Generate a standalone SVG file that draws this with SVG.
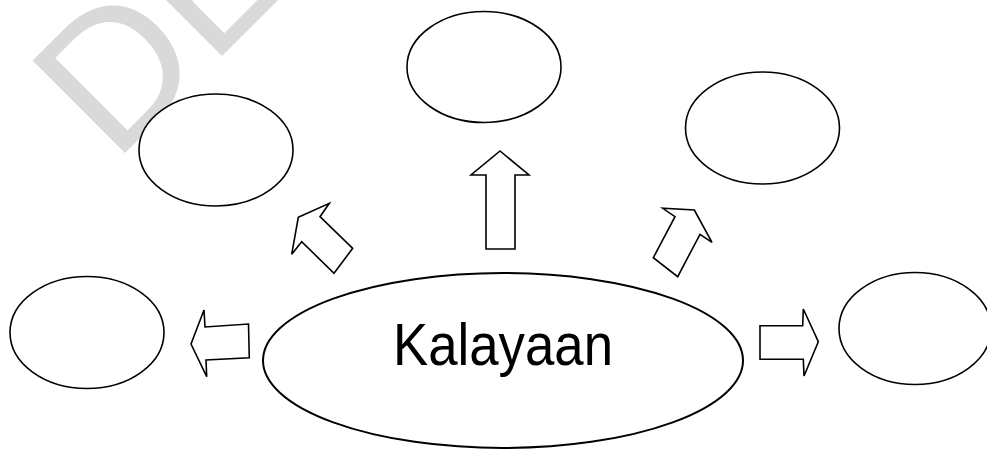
<svg xmlns="http://www.w3.org/2000/svg" width="987" height="449" viewBox="0 0 987 449">
<style>
.node{fill:#fff;stroke:#000;stroke-width:1.6}
.main{fill:#fff;stroke:#000;stroke-width:2}
.arr{fill:#fff;stroke:#000;stroke-width:1.6;stroke-linejoin:miter}
.wm{fill:#d9d9d9;font-family:"Liberation Sans",Arial,sans-serif;font-size:190px}
.lbl{fill:#000;font-family:"Liberation Sans",Arial,sans-serif;font-size:60px}
</style>
<rect width="987" height="449" fill="#fff"/>
<text class="wm" transform="translate(114,164) rotate(-45)" x="0" y="0">DE</text>
<g id="n-top-left"><ellipse class="node" cx="216" cy="150" rx="77" ry="56"/></g>
<g id="n-top"><ellipse class="node" cx="484" cy="67" rx="77" ry="55.5"/></g>
<g id="n-top-right"><ellipse class="node" cx="762.5" cy="128" rx="77" ry="56"/></g>
<g id="n-left"><ellipse class="node" cx="87" cy="332.5" rx="77" ry="56"/></g>
<g id="n-right"><ellipse class="node" cx="915" cy="328.5" rx="76" ry="56"/></g>
<g id="n-center">
<ellipse class="main" cx="503" cy="360.5" rx="240" ry="87.5"/>
<text class="lbl" x="393" y="365" textLength="220" lengthAdjust="spacingAndGlyphs">Kalayaan</text>
</g>
<g id="connectors">
<polygon class="arr" points="500,151 529,175 515,175 515,249 486,249 486,175 471,175"/>
<polygon class="arr" points="298.3,217.3 329.3,203.3 320,216.7 352.7,248.3 334,273.3 301.7,241.7 291.7,254.3"/>
<polygon class="arr" points="694.3,210 712,242.3 700,234.3 677.7,276.7 653.3,257.7 675,216.7 662.7,208.3"/>
<polygon class="arr" points="191,344 204,310 205,327 248.5,324 249.3,357.7 206,360 206.7,376.7"/>
<polygon class="arr" points="818.3,341.7 803.3,309 802.7,325.7 760,325.7 760,359.3 803.3,359.3 804,376"/>
</g>
</svg>
